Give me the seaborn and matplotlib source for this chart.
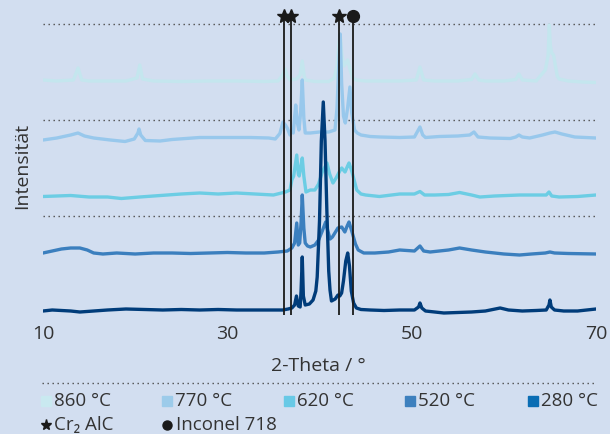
import numpy as np
import pandas as pd
import matplotlib
matplotlib.use("Agg")
import matplotlib.pyplot as plt
from matplotlib.lines import Line2D
import seaborn as sns

# ---------------- data (2-Theta in degrees, intensity in arbitrary units) ----------------
labels = ["860 °C", "770 °C", "620 °C", "520 °C", "280 °C"]

theta_860 = [10, 11.5, 13.3, 13.8, 14.2, 15, 17, 19, 20.2, 20.5, 20.8, 22, 25, 28, 31, 34, 35.5,
             36.0, 36.26, 36.5, 36.8, 37.5, 37.9, 38.13, 38.35, 38.5, 39.5, 41.0, 41.6, 41.9,
             42.1, 42.25, 42.45, 42.65, 42.85, 43.06, 43.3, 43.6, 44.0, 45, 48.7, 50.5, 50.9,
             51.3, 52.5, 55, 56.5, 56.87, 57.3, 58, 60, 61.3, 61.64, 62, 63.5, 64.5, 64.8,
             64.93, 65.05, 65.2, 65.4, 65.6, 65.8, 66.0, 67, 68.5, 70]
int_860 = [1, 0, 1, 13, 1, 0, 0, 0, 3, 16, 2, 0, -0.5, 0, 0, -0.5, 0,
           6, 12, 5, 1, 2, 6, 20, 4, 1, -0.5, -0.5, 3, 15,
           38, 45, 25, 15, 18, 21, 12, 3, 1, 0, 0, 1, 14,
           1, 0, 0, 1.5, 7, 1, 0, 0, 1.5, 7, 1, 0, 11, 25,
           56, 35, 28, 26, 15, 5, 2, 0, -1, -1.5]

theta_770 = [10, 11.5, 13, 13.8, 14.5, 15.5, 17.3, 18.9, 19.9, 20.3, 20.42, 20.6, 21.1, 22.7, 24,
             27, 30, 32.5, 34.5, 35.2, 35.7, 36.04, 36.3, 36.5, 36.8, 37.0, 37.15, 37.42, 37.6,
             37.77, 37.95, 38.13, 38.3, 38.45, 39, 40, 41, 41.68, 41.9, 42.1, 42.25, 42.4, 42.6,
             42.8, 43.05, 43.3, 43.5, 43.8, 44.1, 44.5, 45.5, 46.6, 48.7, 50.3, 50.9, 51.2, 51.5,
             53, 55, 56.3, 56.76, 57.2, 58.5, 60.7, 61.3, 61.64, 62, 62.8, 64.2, 65.0, 65.55,
             66.3, 67.7, 70]
int_770 = [-2, 0, 3, 5, 2, 0, -2, -3.5, -1, 5, 9, 3, -2.5, -3, -1.5,
           0.5, 0.5, 0.5, 0, -1, 4.5, 16, 13, 10, 3, 8, 5, 33, 15,
           8, 25, 58, 20, 5, 5, 6, 6, 8, 30, 75, 104, 55, 22,
           15, 30, 51, 25, 8, 5, 3, 1.5, 1, 0.5, 1, 11, 3, 0.5,
           1.5, 2, 3, 6, 1, 0, -0.5, 1, 3, 1, 0, 3, 5, 6,
           4, 1, 0]

theta_620 = [10, 11.5, 13, 15, 17, 18.5, 20.5, 22, 23.5, 25, 27, 29, 31, 33, 35, 36.3, 36.8,
             37.0, 37.2, 37.53, 37.7, 37.8, 37.95, 38.13, 38.3, 38.53, 39.0, 39.5, 39.9, 40.3,
             40.81, 41.1, 41.46, 41.8, 42.2, 42.41, 42.77, 43.0, 43.2, 43.5, 44.04, 44.5, 45,
             46.5, 48.7, 50.3, 50.9, 51.4, 52.5, 54, 55.2, 56.5, 57.4, 59, 61.7, 63.5, 64.6,
             64.9, 65.2, 66, 68, 70]
int_620 = [-0.5, 0, 0.5, -1, -1, -2.5, -1, 0, 1, 2, 3, 2, 3, 2, 1, 4, 6,
           16, 20, 41, 22, 20, 28, 38, 20, 4, 6, 6, 12, 24,
           33, 22, 13, 18, 25, 28, 24, 29, 33, 25, 6, 2, 1,
           -0.5, 2, 2, 4.5, 1, 1, 1.5, 3.5, 1, -1, 0, 1, 1, 1,
           4, 0, -1, -0.5, 1]

theta_520 = [10, 11, 12, 13, 14, 14.8, 15.5, 16.5, 18, 20, 22, 24, 26, 28, 30, 32, 34, 35.5,
             36.5, 37.0, 37.3, 37.53, 37.7, 37.85, 38.0, 38.13, 38.3, 38.45, 38.7, 39.0, 39.5,
             39.9, 40.3, 40.67, 40.9, 41.15, 41.4, 41.8, 42.0, 42.41, 42.75, 43.0, 43.2, 43.5,
             43.9, 44.2, 44.8, 46, 47.5, 48.7, 50.3, 50.9, 51.3, 52.0, 54, 55.2, 56.5, 58, 60,
             61.7, 63, 64.5, 65.0, 65.5, 67, 70]
int_520 = [0, 2, 4, 5, 5, 3, 0, -1, 0, -1, 0, 0, -0.5, 0, 0.5, 0, 0, 1,
           2, 5, 10, 30, 8, 10, 30, 58, 25, 10, 7, 6, 8,
           13, 22, 31, 22, 14, 16, 22, 25, 26, 21, 27, 31, 22,
           9, 3, 0, 0, 1, 3, 2, 7, 2, 1, 3, 5, 3, 1, -1,
           -2, -1, 0, 1, 0, -0.5, -1]

theta_280 = [10, 11, 12, 13, 14, 15.5, 17, 19, 21, 23, 25, 27, 29, 31, 33, 35, 36.0, 36.6,
             37.0, 37.3, 37.5, 37.7, 37.9, 38.0, 38.13, 38.25, 38.45, 38.9, 39.3, 39.6, 39.75,
             40.0, 40.2, 40.41, 40.6, 40.8, 41.0, 41.14, 41.3, 41.7, 42.0, 42.2, 42.4, 42.6,
             42.85, 43.06, 43.25, 43.45, 43.7, 44.0, 44.5, 45.5, 47, 48.7, 50.3, 50.75, 50.9,
             51.1, 51.5, 52.5, 53.5, 55.0, 56.5, 58.0, 59.6, 60.5, 62.0, 63.5, 64.6, 64.9, 65.0,
             65.15, 65.5, 66.5, 68, 70]
int_280 = [0, 1, 0.5, 0, -1, 0, 1, 2, 1.5, 1, 1.5, 1, 1.5, 1, 1, 1, 1, 2,
           3, 6, 15, 5, 4, 20, 54, 15, 6, 7, 11, 20, 34,
           90, 170, 209, 170, 100, 40, 21, 10, 12, 16, 15, 18, 30,
           50, 58, 45, 20, 8, 3, 1.5, 1, 0.5, 1, 1, 4, 8,
           3, 0, -1, -2, -1.5, -1, 0, 3, 1, 0, 0.5, 1, 6, 11,
           4, 1, 0, 0, 2]

cr2alc_pos = [36.15, 36.9, 42.15]
inconel_pos = [43.65]
xticks = [10, 30, 50, 70]

# ---------------- styling ----------------
line_colors = ["#c4e6ee", "#98c8ec", "#6ccde4", "#3b7fbe", "#003c7a"]
patch_colors = ["#c9e9f0", "#9ccbea", "#68c9e6", "#3d80be", "#0a6db4"]
offsets = [237, 180, 122, 65, 7]
grid_levels = [294, 198, 102]
bg = "#d2def0"
txt = "#333333"

series = [(theta_860, int_860), (theta_770, int_770), (theta_620, int_620),
          (theta_520, int_520), (theta_280, int_280)]
frames = []
for lab, (t, v), off in zip(labels, series, offsets):
    frames.append(pd.DataFrame({"theta": t, "y": np.asarray(v, float) + off, "series": lab}))
df = pd.concat(frames, ignore_index=True)

sns.set_theme(style="white")
plt.rcParams["font.family"] = ["Open Sans", "DejaVu Sans"]

W, H = 610, 434
fig = plt.figure(figsize=(W / 100, H / 100), dpi=100, facecolor=bg)
ax = fig.add_axes([43 / W, (H - 318) / H, (596 - 43) / W, 308 / H])
ax.set_facecolor(bg)

for g in grid_levels:
    ax.axhline(g, color="#4d4d4d", lw=1.0, ls=(0, (1, 2.6)), zorder=1)

sns.lineplot(data=df, x="theta", y="y", hue="series", hue_order=labels,
             palette=dict(zip(labels, line_colors)), estimator=None, sort=False,
             legend=False, lw=2.4, ax=ax, zorder=2)

ax.vlines(cr2alc_pos + inconel_pos, 3, 302, color="#1a1a1a", lw=1.3, zorder=3)
ax.plot(cr2alc_pos, [302] * len(cr2alc_pos), ls="none", marker="*", ms=10,
        color="#1a1a1a", zorder=4, clip_on=False)
ax.plot(inconel_pos, [302] * len(inconel_pos), ls="none", marker="o", ms=8.5,
        color="#1a1a1a", zorder=4, clip_on=False)

ax.set_xlim(10, 70)
ax.set_ylim(0, 308)
ax.set_xticks(xticks)
ax.set_xticklabels([str(v) for v in xticks])
ax.set_yticks([])
ax.tick_params(axis="x", length=0, pad=5, labelsize=14, labelcolor=txt)
ax.set_xlabel("")
ax.set_ylabel("")
for s in ax.spines.values():
    s.set_visible(False)

def fx(px):
    return px / W

def fy(py):
    return 1 - py / H

fig.text(fx(22), fy(166), "Intensität", rotation=90, ha="center", va="center",
         fontsize=14, color=txt)
fig.text(fx(318), fy(366), "2-Theta / °", ha="center", va="center", fontsize=14, color=txt)

fig.add_artist(Line2D([fx(42), fx(596)], [fy(383), fy(383)], transform=fig.transFigure,
                      color="#4d4d4d", lw=1.0, ls=(0, (1, 2.6))))

leg_x = [46, 167, 289, 410, 533]
for x0, lab, c in zip(leg_x, labels, patch_colors):
    fig.add_artist(Line2D([fx(x0)], [fy(401)], transform=fig.transFigure, marker="s",
                          ms=6.5, color=c, ls="none"))
    fig.text(fx(x0 + 8), fy(401), lab, ha="left", va="center", fontsize=13.5, color=txt)

fig.add_artist(Line2D([fx(46)], [fy(425)], transform=fig.transFigure, marker="*",
                      ms=8, color="#1a1a1a", ls="none"))
fig.text(fx(54), fy(425), "Cr₂ AlC", ha="left", va="center", fontsize=13.5, color=txt)
fig.add_artist(Line2D([fx(167)], [fy(425)], transform=fig.transFigure, marker="o",
                      ms=6.5, color="#1a1a1a", ls="none"))
fig.text(fx(176), fy(425), "Inconel 718", ha="left", va="center", fontsize=13.5, color=txt)

fig.savefig("out.png", dpi=100, facecolor=bg)
